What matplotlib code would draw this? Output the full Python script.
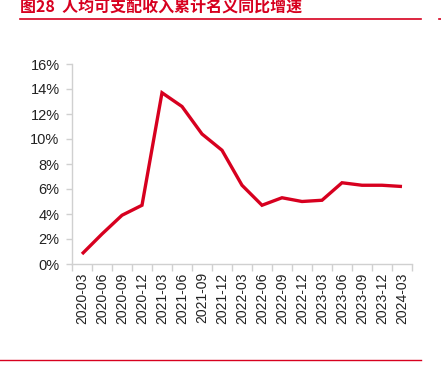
import matplotlib
matplotlib.use('Agg')
import matplotlib.pyplot as plt
from matplotlib.lines import Line2D
from matplotlib.ticker import FuncFormatter, FixedLocator

plt.rcParams['font.family'] = ['Liberation Sans', 'Noto Sans CJK SC', 'DejaVu Sans']

# data
quarters = ['2020-03', '2020-06', '2020-09', '2020-12', '2021-03', '2021-06', '2021-09',
            '2021-12', '2022-03', '2022-06', '2022-09', '2022-12', '2023-03', '2023-06',
            '2023-09', '2023-12', '2024-03']
growth = [0.8, 2.4, 3.9, 4.7, 13.7, 12.6, 10.4, 9.1, 6.3, 4.7, 5.3, 5.0, 5.1, 6.5, 6.3, 6.3, 6.2]
title = '图28  人均可支配收入累计名义同比增速'

red = '#d7001f'
W, H = 441, 369
fig = plt.figure(figsize=(W / 100, H / 100), dpi=100)
ax = fig.add_axes([72 / W, 1 - 264 / H, 340 / W, 200 / H])

x = list(range(len(quarters)))
ax.plot(x, growth, color=red, lw=2.4, solid_capstyle='butt', solid_joinstyle='miter')

ax.set_xlim(-0.5, len(quarters) - 0.5)
ax.set_ylim(0, 16)
ax.set_yticks(range(0, 17, 2))
ax.yaxis.set_major_formatter(FuncFormatter(lambda v, p: f'{v:.0f}%'))

# labels centred, tick marks on category boundaries
ax.set_xticks(x)
ax.set_xticklabels(quarters, rotation=90, fontsize=10, color='#222222')
ax.tick_params(axis='x', which='major', length=0, pad=6)
ax.xaxis.set_minor_locator(FixedLocator([i - 0.5 for i in range(len(quarters) + 1)]))
ax.tick_params(axis='x', which='minor', length=5, color='#d0d0d0', width=1)
ax.tick_params(axis='y', labelsize=10.5, labelcolor='#222222', length=4, color='#d0d0d0', width=1, pad=5)

for s in ['top', 'right']:
    ax.spines[s].set_visible(False)
for s in ['left', 'bottom']:
    ax.spines[s].set_color('#d0d0d0')
    ax.spines[s].set_linewidth(1)

# header and footer
fig.text(20 / W, 1 - 7 / H, title, color=red, fontsize=11.5, fontweight='bold',
         va='center', ha='left', family=['Noto Sans CJK SC', 'Liberation Sans'])
fig.add_artist(Line2D([20 / W, 421 / W], [1 - 19 / H] * 2, color=red, lw=1.2))
fig.add_artist(Line2D([439 / W, 441 / W], [1 - 19 / H] * 2, color=red, lw=1.2))
fig.add_artist(Line2D([0, 421 / W], [1 - 360 / H] * 2, color=red, lw=1.0))

fig.savefig('out.png', dpi=100)
